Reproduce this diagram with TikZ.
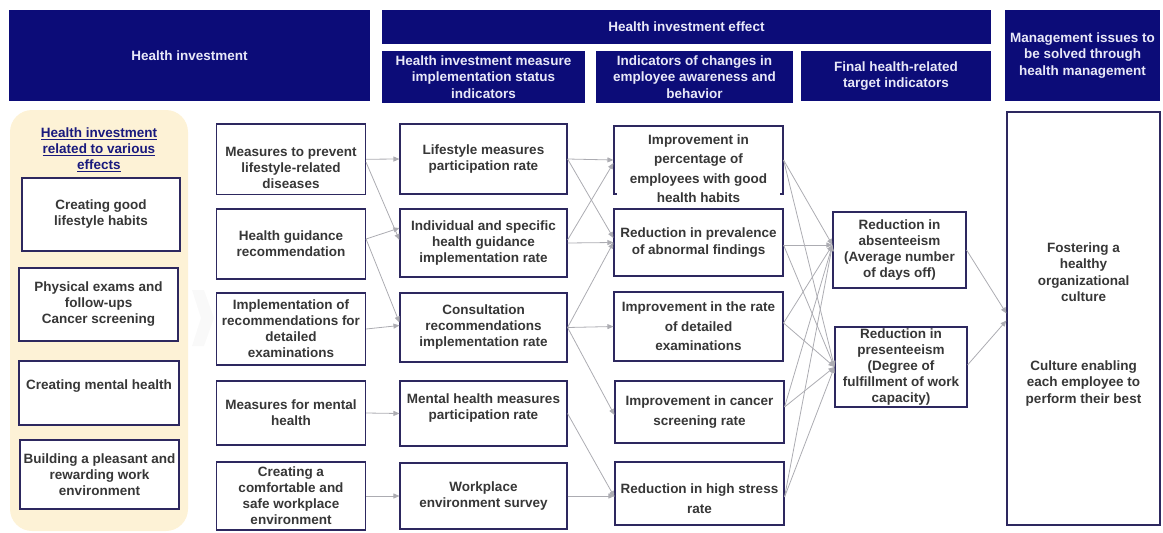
\documentclass[tikz,border=0pt]{standalone}
\usepackage{fontspec}
\setmainfont{Liberation Sans}
\usetikzlibrary{arrows.meta,calc}
\definecolor{navy}{RGB}{12,12,120}
\definecolor{hdrtext}{RGB}{232,232,248}
\definecolor{boxline}{RGB}{45,40,95}
\definecolor{bodytext}{RGB}{55,55,55}
\definecolor{panelcol}{RGB}{253,242,214}
\definecolor{conncol}{RGB}{172,172,178}
\definecolor{titlecol}{RGB}{25,25,125}
\tikzset{
  hdr/.style={fill=navy, draw=none, text=hdrtext, font=\bfseries\fontsize{13.5}{16.5}\selectfont, align=center, inner sep=1pt},
  box/.style={draw=boxline, line width=1.1pt, fill=white, text=bodytext, font=\bfseries\fontsize{13.5}{16}\selectfont, align=center, inner sep=1pt},
  wide/.style={font=\bfseries\fontsize{13.5}{19.5}\selectfont},
  txt/.style={text=bodytext, font=\bfseries\fontsize{13.5}{16}\selectfont, align=center, inner sep=0pt},
  link/.style={draw=conncol, line width=0.8pt, -{Triangle[length=6pt,width=5pt]}}
}
\begin{document}
\begin{tikzpicture}[x=1pt,y=-1pt]
\useasboundingbox (0,0) rectangle (1163,533);

% headers
\node[hdr, minimum width=361, minimum height=91] (H0) at (189.5,55.5) {Health investment};
\node[hdr, minimum width=609, minimum height=34] (H1) at (686.5,27) {Health investment effect};
\node[hdr, minimum width=203, minimum height=52] (H2) at (483.5,77) {Health investment measure\\implementation status\\indicators};
\node[hdr, minimum width=197, minimum height=52] (H3) at (694.5,77) {Indicators of changes in\\employee awareness and\\behavior};
\node[hdr, minimum width=190, minimum height=50] (H4) at (896,76) {Final health-related\\target indicators};
\node[hdr, minimum width=155, minimum height=91] (H5) at (1082.5,55.5) {Management issues to\\be solved through\\health management};

% faint background arrow
\fill[gray!5] (192,290) -- (204,290) -- (214,318) -- (204,346) -- (192,346) -- (201,318) -- cycle;

% left panel
\fill[panelcol, rounded corners=22pt] (10,110) rectangle (188,531);
\node[txt, text=titlecol] (T) at (99,150) {\underline{Health investment}\\\underline{related to various}\\\underline{effects}};
\node[box, minimum width=158, minimum height=73] (L1) at (101,214.5) {Creating good\\lifestyle habits};
\node[box, minimum width=159, minimum height=73] (L2) at (98.5,304.5) {Physical exams and\\follow-ups\\Cancer screening};
\node[box, minimum width=160, minimum height=64] (L3) at (99,393) {};
\node[txt] (L3t) at (99,386) {Creating mental health};
\node[box, minimum width=159, minimum height=69] (L4) at (99.5,474.5) {Building a pleasant and\\rewarding work\\environment};

% column A
\node[box, minimum width=149, minimum height=70.5] (A1) at (291,159.25) {};
\node[txt] (A1t) at (291,168) {Measures to prevent\\lifestyle-related\\diseases};
\node[box, minimum width=149, minimum height=70] (A2) at (291,244) {Health guidance\\recommendation};
\node[box, minimum width=149, minimum height=72] (A3) at (291,329) {Implementation of\\recommendations for\\detailed\\examinations};
\node[box, minimum width=149, minimum height=64] (A4) at (291,413) {Measures for mental\\health};
\node[box, minimum width=149, minimum height=68] (A5) at (291,496) {Creating a\\comfortable and\\safe workplace\\environment};

% column B
\node[box, minimum width=167, minimum height=70] (B1) at (483.5,159) {Lifestyle measures\\participation rate};
\node[box, minimum width=167, minimum height=68] (B2) at (483.5,243) {Individual and specific\\health guidance\\implementation rate};
\node[box, minimum width=167, minimum height=69] (B3) at (483.5,327.5) {Consultation\\recommendations\\implementation rate};
\node[box, minimum width=167, minimum height=65] (B4) at (483.5,413.5) {};
\node[txt] (B4t) at (483.5,408.5) {Mental health measures\\participation rate};
\node[box, minimum width=167, minimum height=66] (B5) at (483.5,496) {Workplace\\environment survey};

% column C
\node[box, minimum width=169, minimum height=68] (C1) at (698.5,160) {};
\node[txt, wide, fill=white, minimum width=163] (C1t) at (698.5,168.5) {Improvement in\\percentage of\\employees with good\\health habits};
\node[box, minimum width=169, minimum height=67, font=\bfseries\fontsize{13.5}{17}\selectfont] (C2) at (698.5,242.5) {Reduction in prevalence\\of abnormal findings};
\node[box, wide, minimum width=169, minimum height=69] (C3) at (698.5,326.5) {Improvement in the rate\\of detailed\\examinations};
\node[box, wide, minimum width=169, minimum height=62] (C4) at (699.5,412) {Improvement in cancer\\screening rate};
\node[box, minimum width=169, minimum height=63] (C5) at (699.5,493.5) {};
\node[txt, wide] (C5t) at (699.5,498.5) {Reduction in high stress\\rate};

% column D
\node[box, minimum width=133, minimum height=76] (D1) at (899.5,250) {Reduction in\\absenteeism\\(Average number\\of days off)};
\node[box, minimum width=132, minimum height=80] (D2) at (901,367) {Reduction in\\presenteeism\\(Degree of\\fulfillment of work\\capacity)};

% column E
\node[box, minimum width=153, minimum height=413] (E) at (1083.5,318.5) {};
\node[txt, font=\bfseries\fontsize{13.5}{16.5}\selectfont] (E1) at (1083.5,272) {Fostering a\\healthy\\organizational\\culture};
\node[txt, font=\bfseries\fontsize{13.5}{16.5}\selectfont] (E2) at (1083.5,383.5) {Culture enabling\\each employee to\\perform their best};

% connectors A -> B
\draw[link] (A1.east) -- (B1.west);
\draw[link] ([yshift=-3pt]A1.east) -- ([yshift=3pt]B2.west);
\draw[link] ([yshift=5pt]A2.east) -- ([yshift=15pt]B2.west);
\draw[link] ([yshift=5pt]A2.east) -- ([yshift=5pt]B3.west);
\draw[link] (A3.east) -- ([yshift=2pt]B3.west);
\draw[link] (A4.east) -- (B4.west);
\draw[link] (A5.east) -- (B5.west);

% connectors B -> C
\draw[link] (B1.east) -- (C1.west);
\draw[link] (B1.east) -- ([yshift=4.5pt]C2.west);
\draw[link] ([yshift=3pt]B2.east) -- ([yshift=-3pt]C1.west);
\draw[link] (B2.east) -- (C2.west);
\draw[link] (B3.east) -- (C2.west);
\draw[link] (B3.east) -- (C3.west);
\draw[link] (B3.east) -- ([yshift=-3pt]C4.west);
\draw[link] (B4.east) -- ([yshift=-3.5pt]C5.west);
\draw[link] (B5.east) -- ([yshift=-2.5pt]C5.west);

% connectors C -> D
\foreach \c/\s in {C1/0pt, C2/-2.5pt, C3/3.5pt, C4/5pt, C5/-3.5pt}{
  \draw[link] ([yshift=\s]\c.east) -- ([yshift=5pt]D1.west);
  \draw[link] ([yshift=\s]\c.east) -- (D2.west);
}

% connectors D -> E
\draw[link] (D1.east) -- ([yshift=5pt]E.west);
\draw[link] ([yshift=2pt]D2.east) -- ([yshift=-2pt]E.west);
\end{tikzpicture}
\end{document}
